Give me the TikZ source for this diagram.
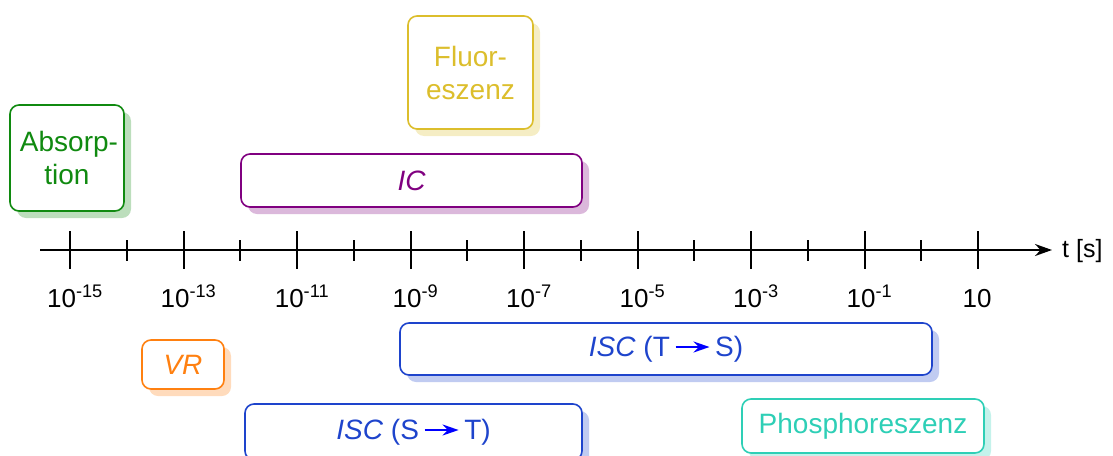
\documentclass[tikz,border=0pt]{standalone}
\usepackage{fontspec}
\setmainfont{Liberation Sans}
\usetikzlibrary{arrows.meta,shadows}
\definecolor{cgreen}{HTML}{108A10}
\definecolor{cyellow}{HTML}{DCBE2C}
\definecolor{cpurple}{HTML}{800080}
\definecolor{corange}{HTML}{FF8010}
\definecolor{cblue}{HTML}{1E44CC}
\definecolor{cteal}{HTML}{2ECFB6}
\tikzset{
  procbox/.style={draw=#1, text=#1, fill=white, rounded corners=9pt, line width=1.6pt,
    align=center, inner sep=0pt,
    font=\fontsize{28}{33}\selectfont,
    drop shadow={shadow xshift=7pt, shadow yshift=-7pt, fill=#1!28, opacity=1}},
  ticklabel/.style={anchor=base, font=\fontsize{26}{30}\selectfont, inner sep=0pt},
  axisline/.style={line width=2pt},
}
\newcommand{\isarrow}{\tikz[baseline=-0.33em]\draw[blue, line width=2pt, -{Stealth[length=16pt,width=11pt]}] (0,0) -- (34pt,0);}
\begin{document}
\begin{tikzpicture}[x=1pt,y=-1pt]
\useasboundingbox (0,0) rectangle (1113,455);
% axis
\coordinate (a0) at (40,250);
\coordinate (a1) at (1052,250);
\draw[axisline, -{Stealth[length=17pt,width=12pt]}] (a0) -- (a1);
\node[anchor=west, font=\fontsize{25}{30}\selectfont, inner sep=0pt] (tlab) at (1062,251) {t [s]};
\foreach \k/\lab in {0/10\textsuperscript{-15},1/10\textsuperscript{-13},2/10\textsuperscript{-11},3/10\textsuperscript{-9},4/10\textsuperscript{-7},5/10\textsuperscript{-5},6/10\textsuperscript{-3},7/10\textsuperscript{-1}}{
  \draw[axisline] ({70+113.5*\k},231) -- ({70+113.5*\k},269);
  \node[ticklabel] (l\k) at ({75+113.5*\k},307) {\lab};
}
\draw[axisline] (978,231) -- (978,269);
\node[ticklabel] (l8) at (977,307) {10};
\foreach \k in {0,...,7}{
  \draw[axisline] ({126.75+113.5*\k},240) -- ({126.75+113.5*\k},261);
}
% boxes
\node[procbox=cgreen, minimum width=114pt, minimum height=106pt] (abs) at (67,158) {\hspace*{4pt}Absorp-\\tion};
\node[procbox=cyellow, minimum width=125pt, minimum height=113pt] (flu) at (470.5,72.5) {Fluor-\\eszenz};
\node[procbox=cpurple, minimum width=341pt, minimum height=53pt] (ic) at (411.5,180.5) {\itshape IC};
\node[procbox=corange, minimum width=82pt, minimum height=49pt] (vr) at (183,364.5) {\itshape VR};
\node[procbox=cblue, minimum width=532pt, minimum height=52pt] (isc1) at (666,349) {\textit{ISC} (T\,\isarrow\,S)};
\node[procbox=cblue, minimum width=337pt, minimum height=56pt] (isc2) at (413.5,432) {\textit{ISC} (S\,\isarrow\,T)};
\node[procbox=cteal, minimum width=242pt, minimum height=54pt] (pho) at (863,426) {Phosphoreszenz};
\end{tikzpicture}
\end{document}
